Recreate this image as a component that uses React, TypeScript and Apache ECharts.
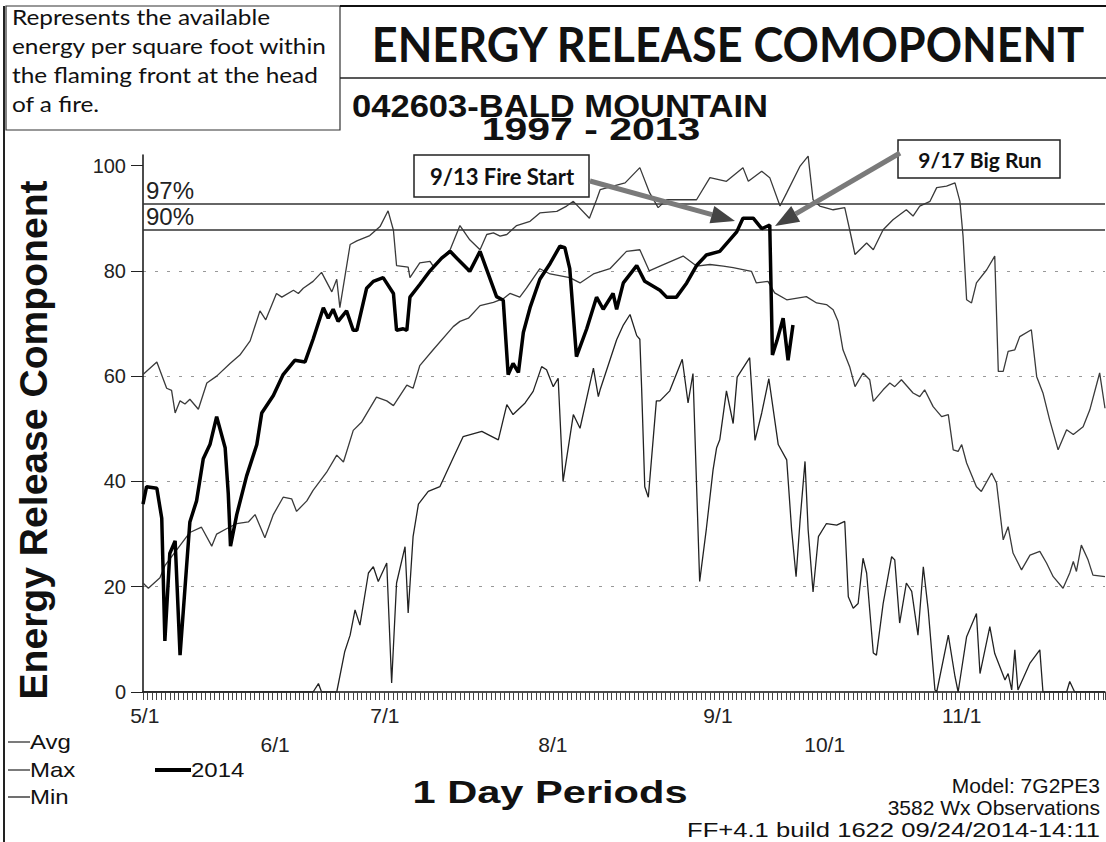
import React, { useEffect, useRef } from "react";
import * as echarts from "echarts";

// ---- data (day index from 5/1, value) ----
const maxDays = [0, 3.1, 5.3, 6.4, 7.2, 8.3, 9.4, 10.5, 12.4, 14.3, 16.5, 19.5, 21.7, 24, 26.2, 27.5, 29.9, 31.1, 33.7, 34.8, 35.9, 38.1, 40, 42.3, 43.4, 44.1, 46.4, 47.9, 50.8, 53.1, 54.9, 56.1, 56.8, 59.4, 59.8, 62, 64.3, 65, 68.8, 71, 73.2, 75.5, 77, 78.5, 80, 81.5, 83.7, 86.7, 88.9, 92.7, 94.9, 96.4, 100, 101.6, 102.4, 108, 111.3, 113.5, 115.4, 117.3, 124, 127, 130.7, 134.4, 135.6, 138.6, 140.4, 142.7, 144.2, 147.2, 149, 150.1, 151.6, 154.6, 157.2, 158.3, 159.5, 162.1, 163.6, 165.8, 168, 171, 172.5, 174, 176.3, 177.8, 180, 181.9, 183, 183.7, 184.5, 185.6, 186.7, 189, 190.8, 191.6, 192.7, 193.8, 195.3, 196.4, 199, 200.2, 201.6, 203.1, 205, 206.9, 208.4, 210.6, 212.1, 214.3, 215.5];
const maxVals = [60.3, 62.7, 57.7, 57.3, 53, 55.3, 54.7, 55.6, 53.7, 58.7, 60, 62.4, 64, 66.7, 72.4, 70.7, 75.7, 75, 76.3, 75.7, 76.7, 78, 79.7, 76, 78.4, 73, 85, 85.7, 86.7, 88.4, 91.4, 87.7, 81, 80.7, 78.7, 81.5, 81.8, 80.9, 84, 88.6, 85.9, 84, 86.9, 87.2, 86.6, 86.9, 88.6, 89.4, 91, 91.3, 92.3, 93.2, 90, 93.5, 95.4, 96.7, 99.6, 94.8, 92, 93.5, 93.5, 97.7, 97, 99.6, 97, 98.9, 97.7, 92.3, 94.8, 99.9, 101.8, 93.5, 92.3, 91.6, 92, 87.8, 83.1, 85.3, 84, 87.8, 89.7, 91.6, 90.4, 92.3, 93.2, 95.8, 96.1, 96.7, 93.2, 86.6, 74.5, 73.9, 77.7, 80.2, 82.8, 60.9, 60.9, 64.7, 65, 67.5, 68.8, 59.9, 56.8, 51.7, 46, 49.8, 48.9, 50.4, 53.6, 60.6, 53.9];

const avgDays = [0, 1.2, 3.8, 4.9, 10.5, 13.1, 15.4, 16.5, 18.7, 21, 23.6, 25.1, 27.3, 29.2, 31.4, 33.3, 34.4, 36.7, 38.1, 41.1, 43.4, 44.9, 47.1, 49, 52.3, 54.6, 56.1, 59.1, 60.5, 62, 65, 69.5, 71, 72.9, 75.5, 78.5, 80.7, 82.2, 84.4, 85.9, 88.9, 91.2, 95.6, 97.9, 100.9, 104.6, 108.3, 111.3, 113.4, 115.8, 121, 124, 127, 130, 132.2, 136.3, 137.4, 140, 141.5, 144.2, 148.6, 150.9, 153.1, 154.6, 155.7, 156.8, 158.3, 159.5, 161.3, 162.8, 163.6, 165.8, 167.3, 168.4, 169.9, 172.5, 174, 175.1, 177, 178.9, 180.4, 181.5, 182.6, 183.4, 184.5, 186.7, 187.8, 190.1, 191.2, 192.7, 193.8, 194.9, 196.8, 198.7, 200.9, 202.4, 203.9, 206.1, 207.6, 208.4, 209.1, 210.2, 211.7, 212.8, 215.5];
const avgVals = [20.7, 19.7, 21.7, 24, 30.3, 31.3, 27.7, 30, 31, 32, 32.3, 33.7, 29.3, 33.7, 37, 36.7, 34.3, 36.3, 38.3, 41.7, 45, 43.7, 49.7, 51.3, 56, 55.3, 54.4, 58.3, 57.7, 62, 65, 69.4, 70.4, 71, 73.4, 74, 74.7, 75.7, 75, 76.7, 80.4, 79.4, 78.7, 77.7, 79.4, 80.4, 83.7, 84, 80, 80.9, 82.8, 80.9, 81.2, 80.9, 80.6, 79.9, 77.7, 78, 75.8, 74.5, 75.1, 73.9, 73.6, 72.6, 70.4, 65, 61.8, 58, 60.6, 59.3, 55.2, 57.4, 58.7, 58, 59.3, 56.8, 56.1, 57.4, 54.2, 52.3, 52.7, 46, 45.7, 47, 43.5, 39, 38.1, 41.6, 39.7, 28.9, 31.4, 26.4, 23.2, 26, 26.7, 24.5, 21.9, 19.7, 22.6, 24.8, 22.9, 27.9, 25.1, 22.2, 21.9];

const minDays = [0, 38.1, 39.3, 40, 43.4, 45.2, 46.4, 47.5, 48.6, 50.5, 51.6, 52.7, 54.6, 55.7, 56.8, 58.7, 59.4, 60.5, 61.7, 63.9, 66.5, 69.5, 71.7, 75.9, 77.3, 79.6, 81.5, 82.9, 85.6, 87.4, 89.3, 90.4, 91.9, 93, 94.1, 96.4, 97.9, 100.9, 102, 102.4, 106.1, 107.6, 109.1, 110.6, 111.3, 111.7, 112.4, 113.2, 115, 115.8, 118, 120.8, 122.1, 123.2, 124.7, 126.2, 127.7, 128.5, 129.2, 130.7, 132.2, 133.1, 135.9, 137.1, 138.6, 140.2, 142.3, 144.2, 145.3, 146.3, 147.2, 148.3, 149, 150.1, 151.3, 153.1, 155.4, 157.2, 158, 159.1, 160.2, 161.3, 162.1, 163.6, 164.3, 165.8, 167.7, 168.4, 169.5, 171, 172.2, 173.6, 174.8, 175.9, 177.4, 177.8, 180.4, 181.9, 182.6, 184.5, 186.7, 187.5, 189.7, 190.8, 193.1, 193.8, 194.6, 195.3, 196, 198.7, 200.9, 201.6, 206.9, 207.6, 208.7, 215.5];
const minVals = [0, 0, 1.6, 0, 0, 7.7, 10.8, 15.6, 12.7, 22.6, 23.8, 21, 24.5, 1.7, 20.7, 27.6, 15, 29.5, 35.7, 38.1, 39, 44.5, 48.5, 49.5, 48.9, 47.9, 54.6, 52.7, 54.9, 57.1, 61.8, 61.2, 58, 59.6, 40, 52.7, 50.1, 61.5, 56.1, 57.4, 66.9, 69.7, 71.7, 67.7, 67, 57.7, 39, 37, 55.3, 55.3, 57.2, 63.2, 54.9, 60.5, 21, 31, 42.2, 46.4, 47.9, 57.2, 51, 59.8, 63.5, 47.8, 53, 59.5, 47, 44.1, 30.8, 21.9, 32.7, 43.8, 30.8, 19, 29.5, 32, 31.7, 32.4, 18.1, 15.9, 16.8, 25.4, 22.6, 7.4, 7, 16.8, 25.7, 25.1, 13.1, 20.7, 19.1, 10.8, 23.8, 15.6, 0.4, 0, 10.8, 2.9, 0, 10.5, 14.9, 3.5, 12.4, 7.3, 2.3, 3.5, 0.4, 8, 0.4, 5.5, 8, 0, 0, 2, 0, 0];

const y2014Days = [0, 0.8, 3.1, 4.2, 4.9, 6, 7.2, 8.3, 9.8, 10.5, 12, 13.5, 15, 16.5, 18.4, 19.1, 19.6, 21, 23.2, 25.5, 26.6, 29.2, 31.4, 34, 36.3, 38.1, 40.4, 41.5, 42.6, 43.7, 45.6, 47.1, 47.9, 50.1, 51.6, 53.8, 56.1, 56.8, 58.3, 59.1, 59.8, 62, 64.3, 66.9, 68.8, 70.3, 73.2, 75.5, 79.2, 80.7, 81.8, 82.9, 84.1, 85.2, 86.7, 88.9, 91.2, 93.4, 94.5, 95.6, 97.1, 99.4, 101.6, 103.1, 105.3, 106.1, 107.6, 110.6, 112.4, 115.8, 117.3, 119.5, 121.8, 124, 126.2, 129.2, 133, 134.4, 136.7, 138.6, 140.4, 141, 142, 143.4, 144.5, 145.6];
const y2014Vals = [35.7, 39, 38.7, 33, 9.7, 26.3, 28.7, 7, 24.3, 32.3, 36.3, 44.3, 47, 52.3, 46.4, 37.7, 27.7, 33.7, 41, 47, 53, 56.3, 60.3, 63, 62.7, 67, 73, 71, 72.7, 70.4, 72.4, 68.7, 68.7, 76.7, 78, 78.7, 75.7, 68.7, 69, 68.7, 75, 77.4, 80, 82.4, 83.7, 82.4, 79.9, 83.7, 75.1, 74.4, 60.3, 62.4, 60.7, 68.3, 73, 78.4, 81.4, 84.7, 84.4, 80.4, 63.7, 69, 75, 72.7, 75.7, 72.7, 77.7, 81, 78, 76.3, 75, 75, 77.7, 81, 83, 83.7, 87.4, 90, 90, 88, 88.7, 64, 66.7, 71, 63, 69.7];

const pctLevels = [92.8, 87.8];
const pctLabels = ["97%", "90%"];

const yTickValues = [0, 20, 40, 60, 80, 100];
const xRow1Labels = ["5/1", "7/1", "9/1", "11/1"];
const xRow1Pos = [0.4, 54.2, 128.8, 183.4];
const xRow2Labels = ["6/1", "8/1", "10/1"];
const xRow2Pos = [29.6, 91.8, 152.7];
const X_MAX = 215.5;

const toPairs = (d: number[], v: number[]) => d.map((x, i) => [x, v[i]]);

const ARIAL = '"Liberation Sans", Arial, sans-serif';
const CAL = 'Lato, "Open Sans", sans-serif';

export default function App() {
  const ref = useRef<HTMLDivElement>(null);
  useEffect(() => {
    if (!ref.current) return;
    const chart = echarts.init(ref.current, null, { renderer: "svg" });
    const thin = (c: string) => ({ color: c, width: 1.3 });
    const labelStyle = { fontFamily: ARIAL, fontSize: 20, color: "#222" };

    const txt = (x: number, y: number, text: string, font: string, align = "left", extra: any = {}) => ({
      type: "text",
      x,
      y,
      ...extra,
      style: { text, font, fill: "#111", align, verticalAlign: "middle" },
      z: 100,
    });
    const ln = (x1: number, y1: number, x2: number, y2: number, stroke = "#222", w = 1.5) => ({
      type: "line",
      shape: { x1, y1, x2, y2 },
      style: { stroke, lineWidth: w },
      z: 100,
    });

    chart.setOption({
      animation: false,
      backgroundColor: "#ffffff",
      grid: { left: 143, top: 155, right: 1, bottom: 150, containLabel: false },
      xAxis: [
        {
          type: "value",
          min: 0,
          max: X_MAX,
          interval: 1,
          axisLine: { show: true, onZero: false, lineStyle: { color: "#111", width: 1.5 } },
          axisTick: { show: true, length: 8, lineStyle: { color: "#444", width: 1 } },
          splitLine: { show: false },
          axisLabel: {
            ...labelStyle,
            fontSize: 21,
            customValues: xRow1Pos,
            margin: 13,
            formatter: (v: number) => xRow1Labels[xRow1Pos.indexOf(v)] ?? "",
          },
        },
        {
          type: "value",
          min: 0,
          max: X_MAX,
          position: "bottom",
          axisLine: { show: false },
          axisTick: { show: false },
          splitLine: { show: false },
          axisLabel: {
            ...labelStyle,
            fontSize: 21,
            customValues: xRow2Pos,
            margin: 42,
            formatter: (v: number) => xRow2Labels[xRow2Pos.indexOf(v)] ?? "",
          },
        },
      ],
      yAxis: {
        type: "value",
        min: 0,
        max: 102,
        interval: 20,
        axisLine: { show: true, lineStyle: { color: "#111", width: 1.5 } },
        axisTick: { show: true, customValues: yTickValues, length: 12, lineStyle: { color: "#222" } },
        axisLabel: { ...labelStyle, customValues: yTickValues, margin: 17 },
        splitLine: {
          show: true,
          showMinLine: false,
          showMaxLine: false,
          lineStyle: { color: "#999", type: [3, 9], width: 1 },
        },
      },
      series: [
        {
          name: "Max",
          type: "line",
          data: toPairs(maxDays, maxVals),
          showSymbol: false,
          symbol: "none",
          lineStyle: thin("#3a3a3a"),
          z: 3,
          markLine: {
            silent: true,
            symbol: "none",
            lineStyle: { color: "#333", width: 1.5, type: "solid" },
            label: { show: true, position: "insideStartTop", fontFamily: ARIAL, fontSize: 24, color: "#222", distance: [3, 1] },
            data: pctLevels.map((v, i) => ({ yAxis: v, label: { formatter: pctLabels[i] } })),
          },
        },
        { name: "Avg", type: "line", data: toPairs(avgDays, avgVals), showSymbol: false, symbol: "none", lineStyle: thin("#3a3a3a"), z: 3 },
        { name: "Min", type: "line", data: toPairs(minDays, minVals), showSymbol: false, symbol: "none", lineStyle: thin("#222"), z: 3 },
        { name: "2014", type: "line", data: toPairs(y2014Days, y2014Vals), showSymbol: false, symbol: "none", lineStyle: { color: "#000", width: 3.5 }, z: 5 },
      ],
      graphic: [
        // frame and title area
        ln(4, 6, 4, 842, "#222", 2),
        { type: "rect", shape: { x: 6, y: 6, width: 334, height: 124 }, style: { fill: "#fff", stroke: "#333", lineWidth: 1.2 }, z: 90 },
        ln(340, 6, 1106, 6, "#111", 2),
        ln(340, 78, 1106, 78, "#222", 1.5),
        txt(12, 17, "Represents the available", `21px ${CAL}`, "left", { scaleX: 1.16 }),
        txt(12, 46, "energy per square foot within", `21px ${CAL}`, "left", { scaleX: 1.16 }),
        txt(12, 75, "the flaming front at the head", `21px ${CAL}`, "left", { scaleX: 1.16 }),
        txt(12, 104, "of a fire.", `21px ${CAL}`, "left", { scaleX: 1.16 }),
        txt(728, 43, "ENERGY RELEASE COMOPONENT", `bold 45px ${CAL}`, "center", { scaleY: 1.08 }),
        txt(560, 106, "042603-BALD MOUNTAIN", `bold 32px ${ARIAL}`, "center", { scaleX: 1.08 }),
        txt(591, 129, "1997 - 2013", `bold 32px ${ARIAL}`, "center", { scaleX: 1.28 }),
        // y axis title
        txt(34, 440, "Energy Release Component", `bold 34px ${ARIAL}`, "center", { rotation: Math.PI / 2, scaleX: 1.15, scaleY: 1.12 }),
        // annotations
        { type: "rect", shape: { x: 414, y: 155, width: 175, height: 42 }, style: { fill: "#fff", stroke: "#222", lineWidth: 1.5 }, z: 95 },
        txt(502, 176, "9/13 Fire Start", `bold 22px ${CAL}`, "center"),
        { type: "rect", shape: { x: 898, y: 140, width: 162, height: 38 }, style: { fill: "#fff", stroke: "#222", lineWidth: 1.5 }, z: 95 },
        txt(980, 159, "9/17 Big Run", `bold 21px ${CAL}`, "center"),
        ln(590, 181, 712, 214.6, "#7a7a7a", 5),
        { type: "polygon", shape: { points: [[735, 221], [714.3, 205.9], [709.5, 223.3]] }, style: { fill: "#444" }, z: 101 },
        ln(900, 153, 795.7, 213.9, "#7a7a7a", 5),
        { type: "polygon", shape: { points: [[775, 226], [791.2, 206.1], [800.2, 221.7]] }, style: { fill: "#444" }, z: 101 },
        // legend
        ln(8, 742, 30, 742, "#333", 1.3),
        txt(30, 742, "Avg", `20px ${ARIAL}`, "left", { scaleX: 1.2 }),
        ln(8, 770, 30, 770, "#333", 1.3),
        txt(30, 770, "Max", `20px ${ARIAL}`, "left", { scaleX: 1.2 }),
        ln(8, 797, 30, 797, "#222", 1.3),
        txt(30, 797, "Min", `20px ${ARIAL}`, "left", { scaleX: 1.2 }),
        ln(155, 770, 191, 770, "#000", 4),
        txt(191, 770, "2014", `20px ${ARIAL}`, "left", { scaleX: 1.2 }),
        // footer
        txt(550, 792, "1 Day Periods", `bold 32px ${ARIAL}`, "center", { scaleX: 1.3 }),
        txt(1100, 786, "Model: 7G2PE3", `20px ${ARIAL}`, "right", { scaleX: 1.05 }),
        txt(1100, 808, "3582 Wx Observations", `20px ${ARIAL}`, "right", { scaleX: 1.05 }),
        txt(1100, 830, "FF+4.1 build 1622 09/24/2014-14:11", `20px ${ARIAL}`, "right", { scaleX: 1.28 }),
      ],
    });
    return () => chart.dispose();
  }, []);
  return <div ref={ref} style={{ position: "absolute", left: 0, top: 0, width: 1106, height: 842 }} />;
}
